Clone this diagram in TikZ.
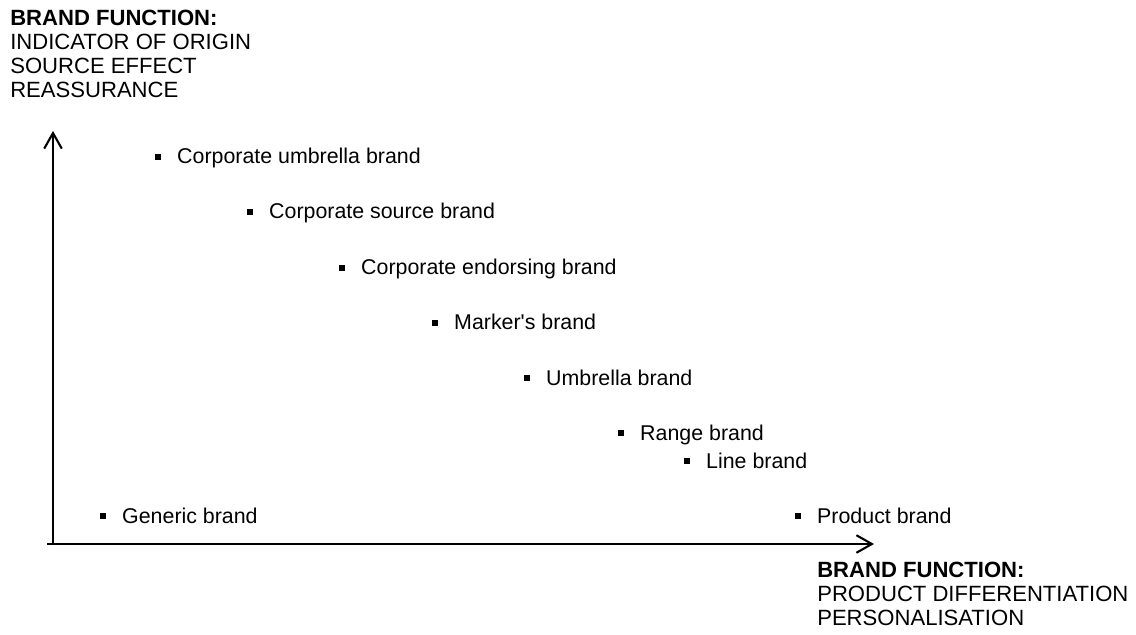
\documentclass[tikz,border=0pt]{standalone}
\usepackage{fontspec}
\setmainfont{Liberation Sans}
\usetikzlibrary{arrows.meta}
\newcommand{\bul}{\rule[3.1pt]{4.3pt}{4.3pt}\hspace{11.3pt}}

\begin{document}
\begin{tikzpicture}[x=0.025cm, y=-0.025cm,
	brand/.style={anchor=base west, inner sep=0pt, font=\fontsize{15.2}{17.1}\selectfont},
	axislabel/.style={anchor=north west, inner sep=0pt, align=left, font=\fontsize{15.7}{17.1}\selectfont},
	axis/.style={line width=1.7pt, -{Straight Barb[length=11pt, width=12.5pt, line width=1.5pt]}}]
	\useasboundingbox (0,0) rectangle (1136,635);
	
	% axes
	\coordinate (o) at (53,544);
	\coordinate (ytip) at (53,131);
	\coordinate (xtip) at (874,544);
	\draw[axis] ([yshift=-0.8pt]o) -- (ytip);
	\draw[axis] ([xshift=-4pt]o) -- (xtip);
	
	\node[axislabel] (ylab) at (10,10) {\textbf{BRAND FUNCTION:}\\INDICATOR OF ORIGIN\\SOURCE EFFECT\\REASSURANCE};
	\node[axislabel] (xlab) at (817,562) {\textbf{BRAND FUNCTION:}\\PRODUCT DIFFERENTIATION\\PERSONALISATION};
	
	% brands
	\node[brand] (umb)  at (155,164) {\bul Corporate umbrella brand};
	\node[brand] (src)  at (247,219) {\bul Corporate source brand};
	\node[brand] (end)  at (339,275) {\bul Corporate endorsing brand};
	\node[brand] (mark) at (432,330) {\bul Marker\textquotesingle s brand};
	\node[brand] (umbr) at (524,385) {\bul Umbrella brand};
	\node[brand] (rng)  at (618,440) {\bul Range brand};
	\node[brand] (line) at (684,468) {\bul Line brand};
	\node[brand] (gen)  at (100,523) {\bul Generic brand};
	\node[brand] (prod) at (795,523) {\bul Product brand};
\end{tikzpicture}
\end{document}
